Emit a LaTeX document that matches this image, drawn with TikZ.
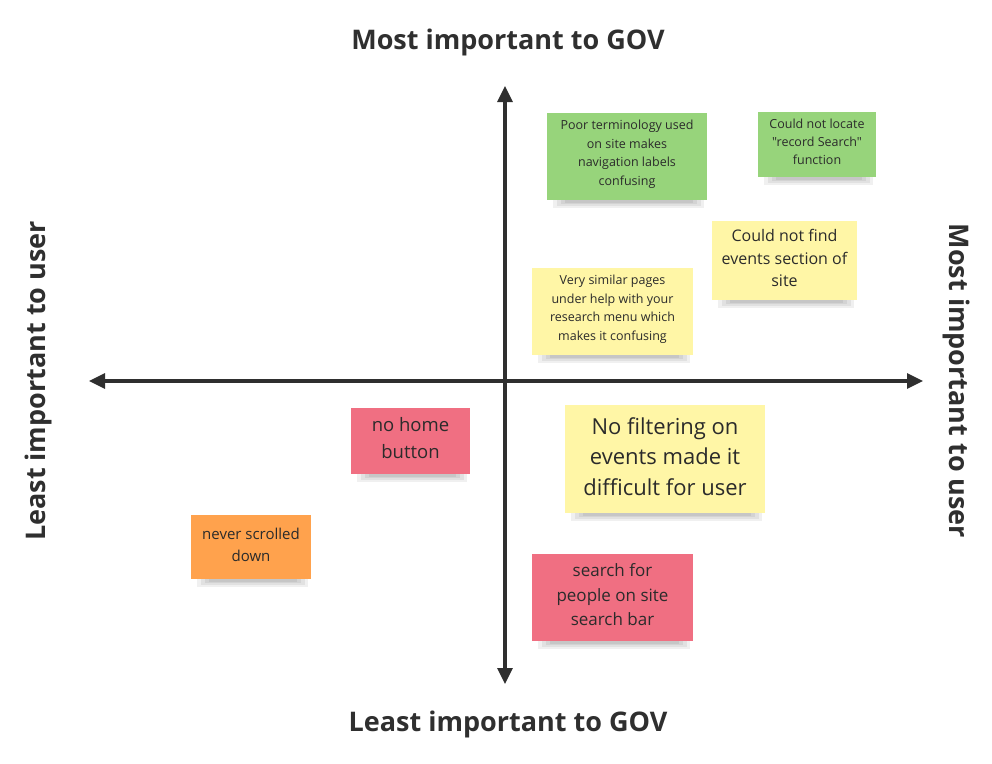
\documentclass[tikz,border=0pt]{standalone}
\usepackage{fontspec}
\setmainfont{Open Sans}[Ligatures=TeXOff]
\usetikzlibrary{arrows.meta}
\definecolor{axis}{HTML}{2F2F2F}
\definecolor{txt}{HTML}{2B2B2B}
\definecolor{sgreen}{HTML}{97D47B}
\definecolor{syellow}{HTML}{FFF6A6}
\definecolor{sred}{HTML}{F06F82}
\definecolor{sorange}{HTML}{FFA24D}
\tikzset{
  axisline/.style={draw=axis, line width=3.2pt, -{Triangle[length=16pt,width=15pt]}},
  title/.style={font=\bfseries\fontsize{27}{32}\selectfont, text=axis},
  shade/.style={fill=black, opacity=0.06},
}
\newcommand{\sticky}[9]{% name, color, x1, y1, x2, y2, fontsize, baselineskip, text
  \fill[shade] (#3+14,#6-2) rectangle (#5-10,#6+4);
  \fill[shade] (#3+10,#6-2) rectangle (#5-6,#6+6);
  \fill[shade] (#3+6,#6-2) rectangle (#5-3,#6+8);
  \fill[shade] (#3+18,#6) rectangle (#5-14,#6+3);
  \fill[#2] (#3,#4) rectangle (#5,#6);
  \node[text=txt, align=center, inner sep=0pt, font=\fontsize{#7}{#8}\selectfont] (#1) at ({(#3+#5)/2},{(#4+#6)/2-2.5}) {#9};
}
\begin{document}
\begin{tikzpicture}[x=1pt,y=-1pt]
\useasboundingbox[fill=white] (0,0) rectangle (992,763);
% axes
\coordinate (top) at (505,86);
\coordinate (bot) at (505,684);
\coordinate (lft) at (89,381);
\coordinate (rgt) at (923,381);
\coordinate (ctr) at (505,381);
\draw[axisline] (ctr) -- (top);
\draw[axisline] (ctr) -- (bot);
\draw[axisline] (ctr) -- (lft);
\draw[axisline] (ctr) -- (rgt);
% titles
\node[title] (tgov) at (508,42) {Most important to GOV};
\node[title] (bgov) at (508,724) {Least important to GOV};
\node[title, rotate=90] (luser) at (38,381) {Least important to user};
\node[title, rotate=-90] (ruser) at (956,381) {Most important to user};
% notes
\sticky{n1}{sgreen}{547}{113}{707}{200}{12.5}{18.5}{Poor terminology used\\on site makes\\navigation labels\\confusing}
\sticky{n2}{sgreen}{758}{112}{876}{177}{12.5}{18}{Could not locate\\"record Search"\\function}
\sticky{n3}{syellow}{712}{221}{857}{300}{16}{22.5}{Could not find\\events section of\\site}
\sticky{n4}{syellow}{532}{268}{693}{355}{12.5}{18.5}{Very similar pages\\under help with your\\research menu which\\makes it confusing}
\sticky{n5}{sred}{351}{408}{470}{474}{18.5}{27}{no home\\button}
\sticky{n6}{sorange}{191}{515}{311}{579}{15}{22}{never scrolled\\down}
\sticky{n7}{syellow}{565}{405}{765}{513}{22}{30.5}{No filtering on\\events made it\\difficult for user}
\sticky{n8}{sred}{532}{554}{693}{641}{17}{24.5}{search for\\people on site\\search bar}
\end{tikzpicture}
\end{document}
